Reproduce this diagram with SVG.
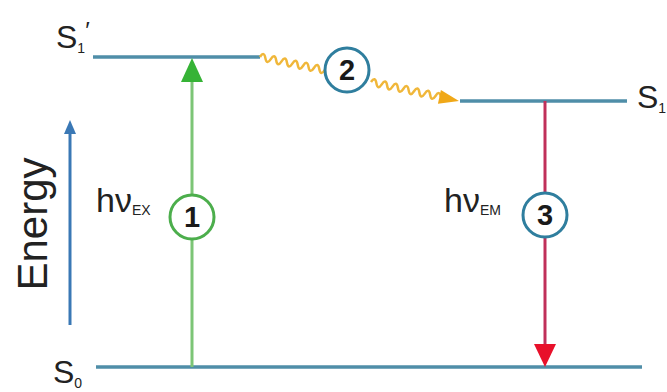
<svg xmlns="http://www.w3.org/2000/svg" width="667" height="392" viewBox="0 0 667 392">
<style>
  .lvl{stroke:#4f8ea8;stroke-width:3.5;fill:none}
  .lbl{font-family:"Liberation Sans",Arial,sans-serif;fill:#222}
  .num{font-family:"Liberation Sans",Arial,sans-serif;font-size:29px;font-weight:bold;fill:#1a1a1a;text-anchor:middle}
  .wave{stroke:#f0b73a;stroke-width:2.5;fill:none;stroke-linejoin:round}
</style>
<rect width="667" height="392" fill="#ffffff"/>
<g id="levels">
  <g id="S1prime"><line class="lvl" x1="93" y1="57" x2="260" y2="57"/>
    <text class="lbl" x="56" y="48" font-size="32">S<tspan font-size="14" dy="5">1</tspan><tspan font-size="24" dy="-14">′</tspan></text></g>
  <g id="S1"><line class="lvl" x1="460" y1="101" x2="627" y2="101"/>
    <text class="lbl" x="637" y="108" font-size="32">S<tspan font-size="14" dy="5">1</tspan></text></g>
  <g id="S0"><line class="lvl" x1="96" y1="367" x2="642" y2="367"/>
    <text class="lbl" x="53" y="383" font-size="32">S<tspan font-size="14" dy="5">0</tspan></text></g>
</g>
<g id="energy">
  <line x1="70" y1="325" x2="70" y2="130" stroke="#3a78b5" stroke-width="3"/>
  <polygon points="70,120 64,134 76,134" fill="#3a78b5"/>
  <text class="lbl" font-size="42" text-anchor="middle" transform="translate(47,224) rotate(-90)">Energy</text>
</g>
<g id="connectors">
  <g id="excitation">
    <line x1="192" y1="367" x2="192" y2="78" stroke="#7cc576" stroke-width="3"/>
    <polygon points="192,58 181,82 203,82" fill="#36b336"/>
  </g>
  <g id="relaxation">
    <g transform="translate(260,57) rotate(11.5)">
      <path class="wave" d="M0,0 q2.75,-7 5.5,0 q2.75,7 5.5,0 q2.75,-7 5.5,0 q2.75,7 5.5,0 q2.75,-7 5.5,0 q2.75,7 5.5,0 q2.75,-7 5.5,0 q2.75,7 5.5,0 q2.75,-7 5.5,0 q2.75,7 5.5,0 q2.75,-7 5.5,0 q2.75,7 5.5,0"/>
    </g>
    <g transform="translate(371,82) rotate(12.2)">
      <path class="wave" d="M0,0 q2.75,-7 5.5,0 q2.75,7 5.5,0 q2.75,-7 5.5,0 q2.75,7 5.5,0 q2.75,-7 5.5,0 q2.75,7 5.5,0 q2.75,-7 5.5,0 q2.75,7 5.5,0 q2.75,-7 5.5,0 q2.75,7 5.5,0 q2.75,-7 5.5,0 q2.75,7 5.5,0 q2.75,-7 5.5,0"/>
      <polygon points="70,-7 90,0 70,7" fill="#f0a818"/>
    </g>
  </g>
  <g id="emission">
    <line x1="545" y1="101" x2="545" y2="348" stroke="#c0305a" stroke-width="3"/>
    <polygon points="545,367 534,344 556,344" fill="#e8102a"/>
  </g>
</g>
<g id="step1">
  <circle cx="192" cy="217" r="22" fill="#fff" stroke="#4cae4c" stroke-width="3"/>
  <text class="num" x="192" y="227">1</text>
  <text class="lbl" x="96" y="212" font-size="34">hν<tspan font-size="14" dy="3">EX</tspan></text>
</g>
<g id="step2">
  <circle cx="347" cy="70" r="22" fill="#fff" stroke="#2f7e9e" stroke-width="3"/>
  <text class="num" x="347" y="80">2</text>
</g>
<g id="step3">
  <circle cx="545" cy="215" r="22" fill="#fff" stroke="#2f7e9e" stroke-width="3"/>
  <text class="num" x="545" y="225">3</text>
  <text class="lbl" x="444" y="212" font-size="34">hν<tspan font-size="14" dy="3">EM</tspan></text>
</g>
</svg>
